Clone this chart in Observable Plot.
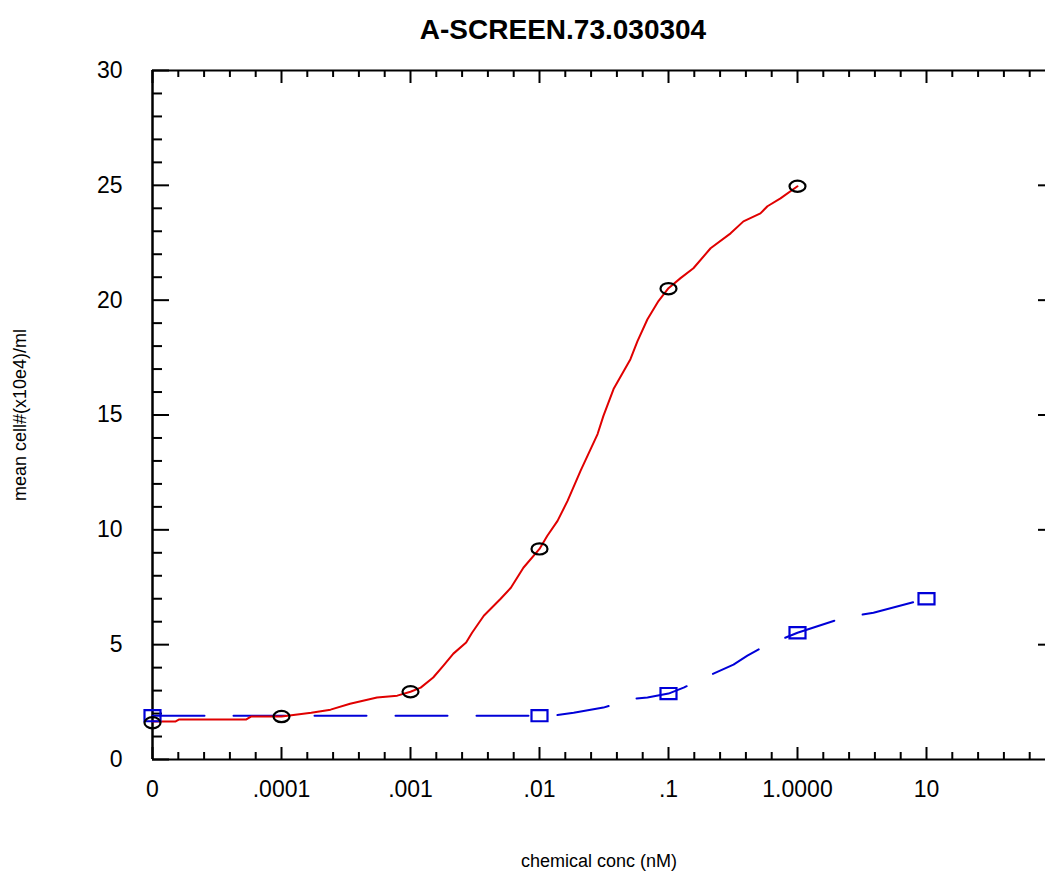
<!DOCTYPE html>
<html>
<head>
<meta charset="utf-8">
<script src="https://cdn.jsdelivr.net/npm/d3@7"></script>
<script src="https://cdn.jsdelivr.net/npm/@observablehq/plot@0.6"></script>
<style>
  html, body { margin: 0; padding: 0; background: #fff; }
  #chart svg { display: block; }
</style>
</head>
<body>
<div id="chart"></div>
<script>
// ---------- data ----------
const chartTitle = "A-SCREEN.73.030304";
const xLabel = "chemical conc (nM)";
const yLabel = "mean cell#(x10e4)/ml";

// x tick values (nM) and their printed labels; 0 sits at the axis break
const xTickConc = [0, 0.0001, 0.001, 0.01, 0.1, 1, 10];
const xTickLabels = ["0", ".0001", ".001", ".01", ".1", "1.0000", "10"];
const yTicks = [0, 5, 10, 15, 20, 25, 30];

// red fitted curve
const redConc = [0, 1.5e-5, 1.6e-5, 5.3e-5, 5.8e-5, 1e-4, 1.7e-4, 2.4e-4, 3.4e-4, 5.5e-4, 7.9e-4,
  1e-3, 1.2e-3, 1.5e-3, 1.8e-3, 2.15e-3, 2.7e-3, 3.0e-3, 3.7e-3, 5.0e-3, 6.0e-3, 7.5e-3,
  0.01, 0.0115, 0.0138, 0.0165, 0.0208, 0.0282, 0.0313, 0.0375, 0.0507, 0.0575, 0.0687, 0.0836,
  0.1, 0.124, 0.156, 0.212, 0.303, 0.381, 0.516, 0.585, 0.738, 1];
const redFit = [1.65, 1.65, 1.74, 1.74, 1.87, 1.87, 2.04, 2.17, 2.43, 2.70, 2.78,
  2.95, 3.13, 3.57, 4.09, 4.61, 5.09, 5.52, 6.26, 7.0, 7.48, 8.35,
  9.17, 9.74, 10.39, 11.26, 12.57, 14.17, 14.96, 16.13, 17.43, 18.22, 19.17, 19.96,
  20.52, 20.96, 21.39, 22.26, 22.91, 23.43, 23.78, 24.09, 24.43, 24.96];
// red observed points (circles)
const redPtConc = [0, 0.0001, 0.001, 0.01, 0.1, 1];
const redPtMean = [1.6, 1.87, 2.95, 9.17, 20.5, 24.96];

// blue fitted curve (dashed)
const blueConc = [0, 0.01, 0.0128, 0.0184, 0.0313, 0.0536, 0.0687, 0.1, 0.131, 0.223, 0.319, 0.409, 0.545, 1, 2.27, 3.88, 10];
const blueFit = [1.91, 1.91, 1.91, 2.04, 2.26, 2.65, 2.70, 2.87, 3.13, 3.74, 4.13, 4.52, 4.91, 5.52, 6.17, 6.39, 7.0];
// blue observed points (squares)
const bluePtConc = [0, 0.01, 0.1, 1, 10];
const bluePtMean = [1.91, 1.91, 2.87, 5.52, 7.0];

// ---------- helpers ----------
const AXIS_ZERO = 1e-5;               // where "0" is drawn on the log axis
const pos = c => (c === 0 ? AXIS_ZERO : c);
const zip = (xs, ys) => xs.map((c, i) => ({x: pos(c), y: ys[i]}));

const redLine = zip(redConc, redFit);
const redPts = zip(redPtConc, redPtMean);
const blueLine = zip(blueConc, blueFit);
const bluePts = zip(bluePtConc, bluePtMean);

const xMajor = xTickConc.map(pos);
const xTickData = xTickConc.map((c, i) => ({x: pos(c), label: xTickLabels[i]}));
const xMinor = [];
for (let k = -5; k <= 1; k++) for (let j = 1; j <= 4; j++) xMinor.push(Math.pow(10, k + j / 5));
const yMinor = d3.range(0, 31).filter(v => v % 5 !== 0);

const ellipse = {
  draw(ctx, size) {
    const r = Math.sqrt(size / Math.PI), rx = r, ry = r * 0.7, k = 0.5523;
    ctx.moveTo(rx, 0);
    ctx.bezierCurveTo(rx, ry * k, rx * k, ry, 0, ry);
    ctx.bezierCurveTo(-rx * k, ry, -rx, ry * k, -rx, 0);
    ctx.bezierCurveTo(-rx, -ry * k, -rx * k, -ry, 0, -ry);
    ctx.bezierCurveTo(rx * k, -ry, rx, -ry * k, rx, 0);
    ctx.closePath();
  }
};
const rectangle = {
  draw(ctx, size) {
    const r = Math.sqrt(size / Math.PI), rx = r, ry = r * 0.7;
    ctx.moveTo(-rx, -ry); ctx.lineTo(rx, -ry); ctx.lineTo(rx, ry); ctx.lineTo(-rx, ry); ctx.closePath();
  }
};

// ---------- layout ----------
const W = 1045, H = 875, mL = 152, mR = 0, mT = 70, mB = 116;
const fw = W - mL - mR, fh = H - mT - mB;
const xMax = Math.pow(10, -5 + fw / 129);

const chart = Plot.plot({
  width: W, height: H,
  marginLeft: mL, marginRight: mR, marginTop: mT, marginBottom: mB,
  style: {fontFamily: "'Liberation Sans', Arial, sans-serif", background: "#fff", color: "#000"},
  x: {type: "log", domain: [AXIS_ZERO, xMax], axis: null},
  y: {domain: [0, 30]},
  marks: [
    // axis lines
    Plot.ruleY([0], {stroke: "#000", strokeWidth: 2}),
    Plot.ruleY([30], {stroke: "#000", strokeWidth: 2}),
    Plot.ruleX([AXIS_ZERO], {stroke: "#000", strokeWidth: 2.5}),
    // bottom ticks (inward)
    Plot.tickX(xMajor, {x: d => d, insetTop: fh - 12, stroke: "#000", strokeWidth: 2}),
    Plot.tickX(xMinor, {x: d => d, insetTop: fh - 7, stroke: "#000", strokeWidth: 2}),
    // top ticks (inward)
    Plot.tickX(xMajor, {x: d => d, insetBottom: fh - 13, stroke: "#000", strokeWidth: 2}),
    Plot.tickX(xMinor, {x: d => d, insetBottom: fh - 7, stroke: "#000", strokeWidth: 2}),
    // left ticks (inward)
    Plot.tickY(yTicks, {y: d => d, insetRight: fw - 17, stroke: "#000", strokeWidth: 2}),
    Plot.tickY(yMinor, {y: d => d, insetRight: fw - 10, stroke: "#000", strokeWidth: 2}),
    // right ticks (inward)
    Plot.tickY(yTicks.filter(v => v > 0 && v < 30), {y: d => d, insetLeft: fw - 7, stroke: "#000", strokeWidth: 2}),
    // tick labels
    Plot.text(xTickData, {x: "x", text: "label", frameAnchor: "bottom", lineAnchor: "middle", dy: 30, fontSize: 23, fill: "#000"}),
    Plot.axisY(yTicks, {tickSize: 0, tickPadding: 30, fontSize: 23, label: null}),
    // curves
    Plot.line(blueLine, {x: "x", y: "y", stroke: "#0000d8", strokeWidth: 2, strokeDasharray: "52,29", curve: "linear"}),
    Plot.line(redLine, {x: "x", y: "y", stroke: "#e00000", strokeWidth: 2, curve: "linear"}),
    // observed points
    Plot.dot(bluePts, {x: "x", y: "y", symbol: rectangle, r: 8, stroke: "#0000d8", strokeWidth: 2.2, fill: "none"}),
    Plot.dot(redPts, {x: "x", y: "y", symbol: ellipse, r: 8, stroke: "#000", strokeWidth: 2.2, fill: "none"}),
    // titles
    Plot.text([chartTitle], {frameAnchor: "top", lineAnchor: "middle", dx: -36, dy: -40, fontSize: 28, fontWeight: "bold", fill: "#000"}),
    Plot.text([xLabel], {frameAnchor: "bottom", lineAnchor: "middle", dy: 102, fontSize: 18, fill: "#000"}),
    Plot.text([yLabel], {frameAnchor: "left", textAnchor: "middle", lineAnchor: "middle", dx: -132, rotate: -90, fontSize: 18, fill: "#000"})
  ]
});
document.getElementById("chart").appendChild(chart);
</script>
</body>
</html>
